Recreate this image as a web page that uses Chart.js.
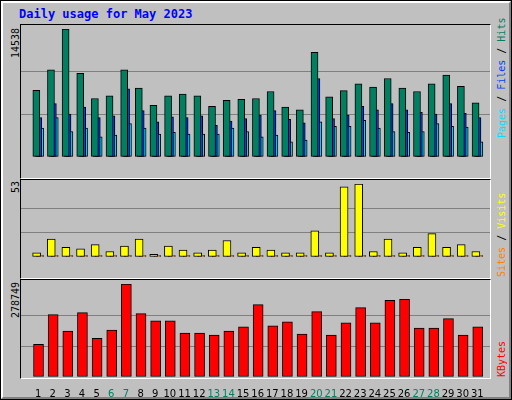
<!DOCTYPE html>
<html>
<head>
<meta charset="utf-8">
<script src="https://cdn.jsdelivr.net/npm/chart.js@4"></script>
<style>
  body { margin: 0; background: #fff; }
  #outer { position: absolute; left: 0; top: 0; width: 510px; height: 398px; border: 1px solid #000; }
  #frame { position: absolute; left: 1px; top: 1px; width: 506px; height: 394px; background: #c0c0c0;
    border: 2px solid; border-color: #fff #808080 #808080 #fff; }
  .box { position: absolute; left: 20px; width: 469px; border: 1px solid; border-color: #000 #fff #fff #000; }
  canvas { position: absolute; }
  .txt { position: absolute; font-family: "DejaVu Sans Mono", monospace; font-size: 10px; white-space: nowrap;
    transform-origin: 0 0; transform: rotate(-90deg); }
  #title { position: absolute; left: 19px; top: 7px; font: bold 12px "DejaVu Sans Mono", monospace; color: #0000ff; }
</style>
</head>
<body>
<div id="outer"></div>
<div id="frame"></div>
<div id="title">Daily usage for May 2023</div>
<div class="box" style="top:24px;height:153px"></div>
<div class="box" style="top:179px;height:98px"></div>
<div class="box" style="top:279px;height:98px"></div>
<div class="txt" style="left:10px;top:58px">14538</div>
<div class="txt" style="left:10px;top:193px">53</div>
<div class="txt" style="left:10px;top:318px">278749</div>
<div class="txt" style="left:496px;top:138px"><span style="color:#00e0ff">Pages</span> / <span style="color:#0040ff">Files</span> / <span style="color:#008060">Hits</span></div>
<div class="txt" style="left:496px;top:277px"><span style="color:#ff8000">Sites</span> / <span style="color:#ffff00">Visits</span></div>
<div class="txt" style="left:496px;top:377px;color:#ff0000">KBytes</div>
<canvas id="c1" style="left:21px;top:29px;width:469px;height:148px"></canvas>
<canvas id="c2" style="left:21px;top:184px;width:469px;height:93px"></canvas>
<canvas id="c3" style="left:21px;top:284px;width:469px;height:113px"></canvas>
<script>
const days = [1,2,3,4,5,6,7,8,9,10,11,12,13,14,15,16,17,18,19,20,21,22,23,24,25,26,27,28,29,30,31];
const weekend = [6,7,13,14,20,21,27,28];
const hits = [7567,9903,14538,9508,6646,6942,9903,7830,5856,6942,7139,6942,5757,6448,6547,6646,7435,5659,5363,11877,6843,7534,8324,7929,8916,7830,7435,8324,9311,8028,6152];
const files = [4474,6054,4869,5659,4474,4672,7732,5264,3981,4573,4474,4672,3586,4080,4376,4771,5264,4277,3882,8916,4376,4771,5758,5363,6054,5363,5067,4869,6054,4968,4474];
const pages = [3290,4474,2895,3290,2303,2500,3784,3290,2599,2797,2599,2599,2599,3290,2895,2303,2500,1711,1908,3981,3487,3487,4178,3290,2895,2797,2895,3784,3487,3389,1711];
const visits = [3,13,7,6,9,4,8,13,2,8,5,3,5,12,3,7,5,3,3,19,3,51,53,4,13,3,7,17,7,9,4];
const sites = [1,1,1,1,1,1,1,1,1,1,1,1,1,1,1,1,1,1,1,1,1,1,1,1,1,1,1,1,1,1,1];
const kbytes = [98000,187000,138000,193000,116000,141000,278749,190000,168000,168000,132000,132000,126000,138000,150000,217000,153000,165000,129000,196000,126000,162000,208000,162000,230000,233000,147000,147000,175000,126000,150000];
const maxHits = 14538, maxVisits = 53, maxKB = 278749;

const pts = (vals, off) => vals.map((v, i) => ({ x: days[i] + off, y: v }));
const bar = (vals, off, color, w) => ({ data: pts(vals, off), backgroundColor: color, borderColor: '#000',
  borderWidth: 1, borderSkipped: false, barThickness: w, grouped: false });

function make(id, datasets, max, showX) {
  return new Chart(document.getElementById(id), {
    type: 'bar',
    data: { datasets },
    options: {
      animation: false, responsive: false, devicePixelRatio: 1,
      layout: { padding: 0 },
      plugins: { legend: { display: false }, tooltip: { enabled: false } },
      scales: {
        x: { type: 'linear', min: 0.35, max: 31.35, grid: { display: false }, border: { display: false },
          display: showX,
          afterFit: s => { s.height = 20; },
          afterBuildTicks: s => { s.ticks = days.map(d => ({ value: d })); },
          ticks: { autoSkip: false, maxRotation: 0, padding: 3,
            font: { family: 'DejaVu Sans', size: 10 },
            color: c => weekend.includes(c.tick.value) ? '#008060' : '#000' } },
        y: { min: 0, max: max, display: true, border: { display: false },
          afterFit: s => { s.width = 0; },
          afterBuildTicks: s => { s.ticks = [0, max / 3, 2 * max / 3, max].map(v => ({ value: v })); },
          ticks: { display: false },
          grid: { drawTicks: false, lineWidth: 1,
            color: c => (c.index === 1 || c.index === 2) ? '#808080' : 'rgba(0,0,0,0)' } }
      }
    }
  });
}

for (const id of ['c1','c2','c3']) {
  const c = document.getElementById(id);
  c.width = parseInt(c.style.width); c.height = parseInt(c.style.height);
}

make('c1', [bar(hits, -0.12, '#008060', 7), bar(files, 0.01, '#0040ff', 7), bar(pages, 0.14, '#00e0ff', 7)], maxHits, false);
make('c2', [bar(visits, -0.1, '#ffff00', 8), bar(sites, 0.14, '#ff8000', 7)], maxVisits, false);
make('c3', [bar(kbytes, 0.03, '#ff0000', 10)], maxKB, true);
</script>
</body>
</html>
